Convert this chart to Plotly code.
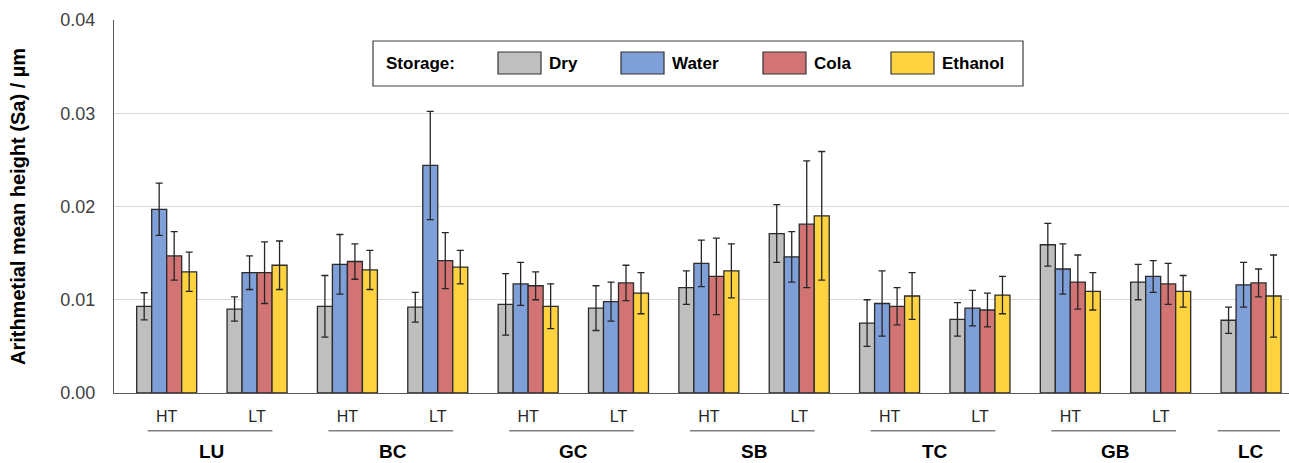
import plotly.graph_objects as go

# ---------------- data ----------------
slot_group = ["LU", "LU", "BC", "BC", "GC", "GC", "SB", "SB", "TC", "TC", "GB", "GB", "LC"]
slot_sub = ["HT", "LT", "HT", "LT", "HT", "LT", "HT", "LT", "HT", "LT", "HT", "LT", ""]
groups = ["LU", "BC", "GC", "SB", "TC", "GB", "LC"]

series_names = ["Dry", "Water", "Cola", "Ethanol"]

dry = [0.0093, 0.0090, 0.0093, 0.0092, 0.0095, 0.0091, 0.0113, 0.0171, 0.0075, 0.0079, 0.0159, 0.0119, 0.0078]
dry_err = [0.00145, 0.0013, 0.0033, 0.0016, 0.0033, 0.0024, 0.0018, 0.0031, 0.0025, 0.0018, 0.0023, 0.0019, 0.0014]
water = [0.0197, 0.0129, 0.0138, 0.0244, 0.0117, 0.0098, 0.0139, 0.0146, 0.0096, 0.0091, 0.0133, 0.0125, 0.0116]
water_err = [0.0028, 0.0018, 0.0032, 0.0058, 0.0023, 0.0021, 0.0025, 0.0027, 0.0035, 0.0019, 0.0027, 0.0017, 0.0024]
cola = [0.0147, 0.0129, 0.0141, 0.0142, 0.0115, 0.0118, 0.0125, 0.0181, 0.0093, 0.0089, 0.0119, 0.0117, 0.0118]
cola_err = [0.0026, 0.0033, 0.0019, 0.0030, 0.0015, 0.0019, 0.0041, 0.0068, 0.0020, 0.0018, 0.0029, 0.0022, 0.0015]
ethanol = [0.0130, 0.0137, 0.0132, 0.0135, 0.0093, 0.0107, 0.0131, 0.0190, 0.0104, 0.0105, 0.0109, 0.0109, 0.0104]
ethanol_err = [0.0021, 0.0026, 0.0021, 0.0018, 0.0024, 0.0022, 0.0029, 0.0069, 0.0025, 0.0020, 0.0020, 0.0017, 0.0044]

y_ticks = [0.00, 0.01, 0.02, 0.03, 0.04]

# ---------------- style ----------------
colors = ["#bfbfbf", "#7f9fd8", "#d27474", "#ffd23f"]
FONT = "Liberation Sans, Arial, sans-serif"
W, H = 1289, 463
ML, MR, MT, MB = 114, 0, 20, 70

def xp(px):
    return (px - ML) / (W - ML - MR)

def yp(py):
    return (H - MB - py) / (H - MT - MB)

values = [dry, water, cola, ethanol]
errors = [dry_err, water_err, cola_err, ethanol_err]
xs = list(range(len(slot_sub)))

fig = go.Figure()
for name, v, e, c in zip(series_names, values, errors, colors):
    fig.add_trace(go.Bar(
        x=xs, y=v, name=name,
        marker=dict(color=c, line=dict(color="#2b2b2b", width=1.3)),
        error_y=dict(type="data", array=e, visible=True, color="#262626",
                     thickness=1.3, width=3.5),
        showlegend=False,
    ))

shapes = []
annotations = []

# group lines and labels below x-axis
for g in groups:
    idx = [i for i, s in enumerate(slot_group) if s == g]
    lo, hi = min(idx), max(idx)
    if len(idx) > 1:
        x0, x1 = lo - 0.21, hi + 0.17
    else:
        x0, x1 = lo - 0.37, hi + 0.32
    shapes.append(dict(type="line", xref="x", yref="paper", x0=x0, x1=x1,
                       y0=yp(430.7), y1=yp(430.7),
                       line=dict(color="#808080", width=1.5)))
    annotations.append(dict(x=(lo + hi) / 2, y=yp(452), xref="x", yref="paper",
                            text=g, showarrow=False, xanchor="center", yanchor="middle",
                            font=dict(family=FONT, size=19, color="#000000", weight="bold")))

# manual legend
shapes.append(dict(type="rect", xref="paper", yref="paper",
                   x0=xp(373), x1=xp(1023), y0=yp(86), y1=yp(41),
                   line=dict(color="#404040", width=1.2), fillcolor="white", layer="above"))
annotations.append(dict(x=xp(384), y=yp(63.5), xref="paper", yref="paper", text="Storage:",
                        showarrow=False, xanchor="left", yanchor="middle",
                        font=dict(family=FONT, size=17, color="#000000", weight="bold")))
sw_left = [498, 621, 763, 891]
for name, c, sl in zip(series_names, colors, sw_left):
    shapes.append(dict(type="rect", xref="paper", yref="paper",
                       x0=xp(sl), x1=xp(sl + 43), y0=yp(74), y1=yp(52),
                       line=dict(color="#333333", width=1.2), fillcolor=c, layer="above"))
    annotations.append(dict(x=xp(sl + 49), y=yp(63.5), xref="paper", yref="paper", text=name,
                            showarrow=False, xanchor="left", yanchor="middle",
                            font=dict(family=FONT, size=17, color="#000000", weight="bold")))

fig.update_layout(
    width=W, height=H,
    margin=dict(l=ML, r=MR, t=MT, b=MB, pad=0),
    paper_bgcolor="white", plot_bgcolor="white",
    barmode="group", bargap=0.336, bargroupgap=0,
    shapes=shapes, annotations=annotations,
    font=dict(family=FONT),
    xaxis=dict(
        range=[-0.583, 12.42],
        tickvals=xs, ticktext=slot_sub,
        tickfont=dict(family=FONT, size=16, color="#262626"),
        ticks="", ticklabelstandoff=9,
        showline=True, linecolor="#595959", linewidth=1.3,
        showgrid=False, zeroline=False, fixedrange=True,
    ),
    yaxis=dict(
        range=[0, 0.04], tickvals=y_ticks, tickformat=".2f",
        tickfont=dict(family=FONT, size=18, color="#404040"),
        ticks="", ticklabelstandoff=14,
        showline=True, linecolor="#595959", linewidth=1.3,
        showgrid=True, gridcolor="#d9d9d9", gridwidth=1.3,
        zeroline=False,
        title=dict(text="Arithmetial mean height (Sa) / µm", standoff=29,
                   font=dict(family=FONT, size=20, color="#000000", weight="bold")),
    ),
)

fig.write_html("out.html", config={"displayModeBar": False},
               post_script="document.body.style.margin='0';document.body.style.overflow='hidden';")
